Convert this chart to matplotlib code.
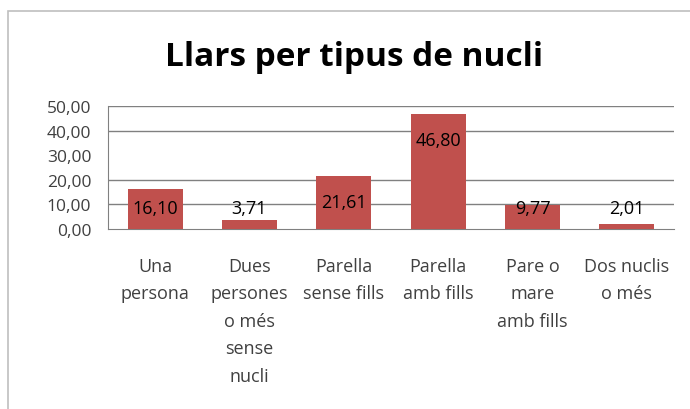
import matplotlib
matplotlib.use("Agg")
import matplotlib.pyplot as plt
from matplotlib.patches import Rectangle

categories = ["Una\npersona", "Dues\npersones\no més\nsense\nnucli", "Parella\nsense fills",
              "Parella\namb fills", "Pare o\nmare\namb fills", "Dos nuclis\no més"]
values = [16.10, 3.71, 21.61, 46.80, 9.77, 2.01]
yticks = [0, 10, 20, 30, 40, 50]
gridlines = [10, 20, 40, 50]

plt.rcParams['font.family'] = ['Open Sans', 'DejaVu Sans']

fig = plt.figure(figsize=(6.9, 4.1), dpi=100)
W, H = 690, 410
# chart border
fig.patches.append(Rectangle((8 / W, -0.1), 1.2, 1 - 12 / H + 0.1, transform=fig.transFigure,
                             fill=False, edgecolor='#bfbfbf', linewidth=1.2))

ax = fig.add_axes([108 / W, 1 - 230 / H, (674 - 108) / W, (230 - 107) / H])
x = list(range(len(values)))
ax.bar(x, values, width=0.585, color='#C0504D', zorder=3)
for g in gridlines:
    ax.axhline(g, color='#808080', linewidth=1.0, zorder=1)
ax.set_xlim(-0.5, len(values) - 0.5)
ax.set_ylim(0, 50)
ax.set_yticks(yticks)
ax.set_yticklabels([f"{t:.2f}".replace('.', ',') for t in yticks], fontsize=12.5, color='#404040')
ax.set_xticks(x)
ax.set_xticklabels(categories, fontsize=13, color='#404040', linespacing=1.68, va='top')
ax.tick_params(axis='y', length=0, pad=12)
ax.tick_params(axis='x', length=0, pad=20)
for s in ['top', 'right']:
    ax.spines[s].set_visible(False)
ax.spines['left'].set_color('#808080')
ax.spines['bottom'].set_color('#808080')

for xi, v in zip(x, values):
    ax.text(xi, max(v - 10.8, 8.6), f"{v:.2f}".replace('.', ','), ha='center', va='center',
            fontsize=13, color='black', zorder=4)

fig.text(354 / W, 1 - 58 / H, "Llars per tipus de nucli", ha='center', va='center',
         fontsize=24, fontweight='bold', color='black')

fig.savefig("out.png", dpi=100)
